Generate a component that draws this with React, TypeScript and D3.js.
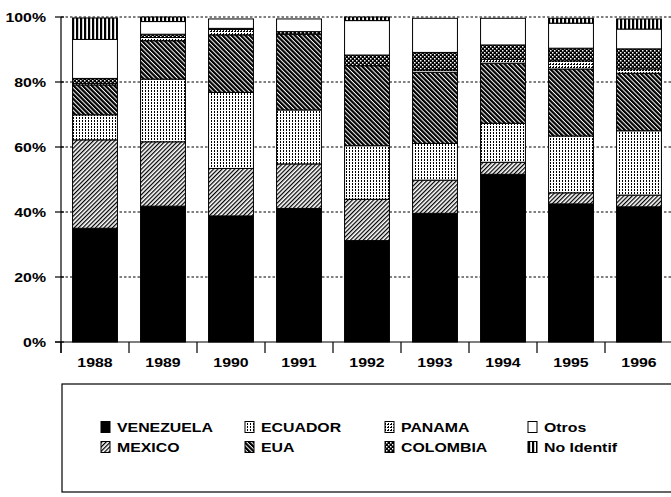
import React from 'react';
import * as d3 from 'd3';

const years = ['1988', '1989', '1990', '1991', '1992', '1993', '1994', '1995', '1996'];
const venezuela = [35.0, 41.8, 38.8, 41.1, 31.2, 39.6, 51.6, 42.5, 41.6];
const mexico = [27.2, 19.8, 14.6, 13.7, 12.7, 10.2, 3.7, 3.4, 3.6];
const ecuador = [7.7, 19.3, 23.4, 16.6, 16.5, 11.3, 12.0, 17.5, 19.8];
const eua = [9.2, 11.8, 17.7, 23.3, 24.6, 21.9, 18.5, 20.6, 17.7];
const panama = [0.5, 1.0, 1.7, 0.0, 0.0, 0.7, 1.2, 2.5, 1.3];
const colombia = [1.5, 1.0, 0.3, 0.8, 3.3, 5.4, 4.4, 3.9, 6.2];
const otros = [12.0, 3.9, 2.9, 3.9, 10.6, 10.5, 8.2, 7.7, 6.1];
const noIdentif = [6.6, 1.4, 0.0, 0.0, 1.1, 0.0, 0.0, 1.5, 3.1];

const seriesKeys = ['VENEZUELA', 'MEXICO', 'ECUADOR', 'EUA', 'PANAMA', 'COLOMBIA', 'Otros', 'No Identif'];
const seriesValues = [venezuela, mexico, ecuador, eua, panama, colombia, otros, noIdentif];
const yTicks = [0, 20, 40, 60, 80, 100];
const legendRows = [
  ['VENEZUELA', 'ECUADOR', 'PANAMA', 'Otros'],
  ['MEXICO', 'EUA', 'COLOMBIA', 'No Identif'],
];

const W = 671;
const H = 497;
const PL = 61, PR = 673, PT = 17, PB = 342;
const FONT = '"Liberation Sans", Arial, sans-serif';
const SX = 1.27;

const fills: Record<string, string> = {
  'VENEZUELA': '#000',
  'MEXICO': 'url(#pMex)',
  'ECUADOR': 'url(#pEcu)',
  'EUA': 'url(#pEua)',
  'PANAMA': 'url(#pPan)',
  'COLOMBIA': 'url(#pCol)',
  'Otros': '#fff',
  'No Identif': 'url(#pNoId)',
};

export default function App() {
  const rows = years.map((yr, i) => {
    const r: any = { year: yr };
    seriesKeys.forEach((k, j) => (r[k] = seriesValues[j][i]));
    return r;
  });
  const stacked = d3.stack<any>().keys(seriesKeys)(rows);
  const x = d3.scaleBand().domain(years).range([PL, PR]).paddingInner(0.34).paddingOuter(0.17);
  const y = d3.scaleLinear().domain([0, 100]).range([PB, PT]);
  const step = x.step();
  const boundaries = d3.range(years.length + 1).map((i) => PL + i * step);

  const legendX = [101, 245, 385, 528];
  const legendY = [427, 447];

  return (
    <svg width={W} height={H} style={{ position: 'absolute', left: 0, top: 0, background: '#fff' }} fontFamily={FONT}>
      <defs>
        <pattern id="pMex" patternUnits="userSpaceOnUse" width="3" height="3" patternTransform="rotate(45)">
          <rect width="3" height="3" fill="#fff" />
          <rect width="1.25" height="3" fill="#000" />
        </pattern>
        <pattern id="pEua" patternUnits="userSpaceOnUse" width="3.2" height="3.2" patternTransform="rotate(-45)">
          <rect width="3.2" height="3.2" fill="#fff" />
          <rect width="2.2" height="3.2" fill="#000" />
        </pattern>
        <pattern id="pEcu" patternUnits="userSpaceOnUse" width="3" height="3">
          <rect width="3" height="3" fill="#fff" />
          <rect x="1" y="0" width="1" height="2" fill="#000" />
        </pattern>
        <pattern id="pPan" patternUnits="userSpaceOnUse" width="3" height="3">
          <rect width="3" height="3" fill="#fff" />
          <rect x="0" y="1" width="2" height="1" fill="#000" />
          <rect x="1" y="0" width="1" height="1" fill="#000" />
        </pattern>
        <pattern id="pCol" patternUnits="userSpaceOnUse" width="4" height="4">
          <rect width="4" height="4" fill="#000" />
          <rect x="0" y="0" width="1.5" height="1.5" fill="#fff" />
          <rect x="2" y="2" width="1.5" height="1.5" fill="#fff" />
        </pattern>
        <pattern id="pNoId" patternUnits="userSpaceOnUse" width="4" height="4">
          <rect width="4" height="4" fill="#fff" />
          <rect width="2.2" height="4" fill="#000" />
        </pattern>
      </defs>

      {/* gridlines */}
      {yTicks.filter((t) => t > 0).map((t) => (
        <line key={'g' + t} x1={PL} x2={PR} y1={y(t)} y2={y(t)} stroke="#000" strokeWidth={1} strokeDasharray="2.5,2" />
      ))}

      {/* bars */}
      {stacked.map((s) => (
        <g key={s.key}>
          {s.map((d, i) => {
            const h = y(d[0]) - y(d[1]);
            if (h <= 0.01) return null;
            return (
              <rect
                key={i}
                x={x(years[i])}
                y={y(d[1])}
                width={x.bandwidth()}
                height={h}
                fill={fills[s.key]}
                stroke="#000"
                strokeWidth={1}
              />
            );
          })}
        </g>
      ))}

      {/* axes */}
      <line x1={PL} x2={PL} y1={PT} y2={PB + 11} stroke="#000" strokeWidth={1.2} />
      <line x1={PL - 6} x2={PR} y1={PB} y2={PB} stroke="#000" strokeWidth={1.2} />
      {yTicks.map((t) => (
        <g key={'t' + t}>
          <line x1={PL - 6} x2={PL + 3} y1={y(t)} y2={y(t)} stroke="#000" strokeWidth={1.2} />
          <text
            transform={`translate(46,${y(t) + 4.5}) scale(${SX},1)`}
            textAnchor="end"
            fontSize={12.5}
            fontWeight="bold"
          >
            {t + '%'}
          </text>
        </g>
      ))}
      {boundaries.map((bx, i) => (
        <line key={'b' + i} x1={bx} x2={bx} y1={PB} y2={PB + 11} stroke="#000" strokeWidth={1.2} />
      ))}
      {years.map((yr) => (
        <text
          key={'yl' + yr}
          transform={`translate(${(x(yr) as number) + x.bandwidth() / 2},367) scale(${SX},1)`}
          textAnchor="middle"
          fontSize={12.5}
          fontWeight="bold"
        >
          {yr}
        </text>
      ))}

      {/* legend */}
      <rect x={62} y={384} width={620} height={108} fill="none" stroke="#000" strokeWidth={1.2} />
      {legendRows.map((row, ri) =>
        row.map((k, ci) => (
          <g key={k}>
            <rect
              x={legendX[ci]}
              y={legendY[ri] - 5.5}
              width={9}
              height={11}
              fill={fills[k]}
              stroke="#000"
              strokeWidth={1}
            />
            <text
              transform={`translate(${legendX[ci] + 16},${legendY[ri] + 4.5}) scale(${SX},1)`}
              fontSize={12.5}
              fontWeight="bold"
            >
              {k}
            </text>
          </g>
        ))
      )}
    </svg>
  );
}
